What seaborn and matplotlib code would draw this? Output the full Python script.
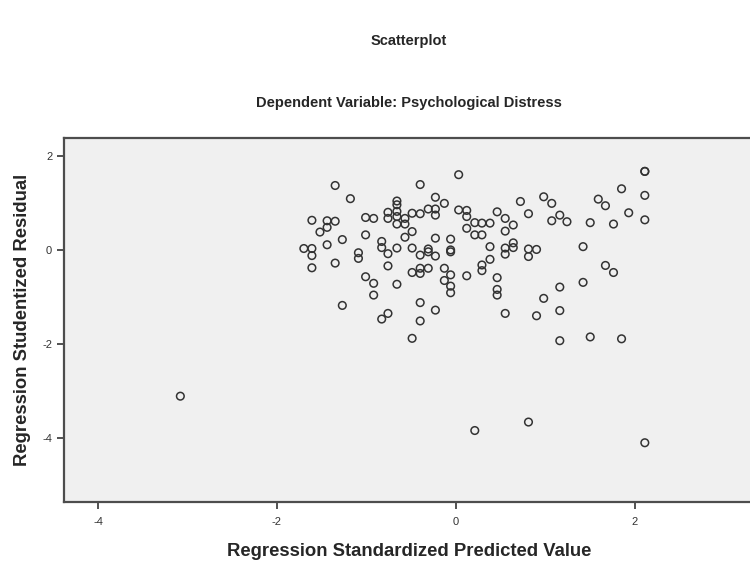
import matplotlib
matplotlib.use('Agg')
import matplotlib.pyplot as plt
import seaborn as sns
import pandas as pd

# ---- data ----
pred = [-1.70, -1.61, -1.61, -1.61, -1.61,
        -1.52, -1.44, -1.44, -1.44,
        -1.35, -1.35, -1.35,
        -1.27, -1.27, -1.18,
        -1.09, -1.09,
        -1.01, -1.01, -1.01,
        -0.92, -0.92, -0.92,
        -0.83, -0.83, -0.83,
        -0.76, -0.76, -0.76, -0.76, -0.76,
        -0.66, -0.66, -0.66, -0.66, -0.66, -0.66, -0.66,
        -0.57, -0.57, -0.57,
        -0.49, -0.49, -0.49, -0.49, -0.49,
        -0.40, -0.40, -0.40, -0.40, -0.40, -0.40, -0.40,
        -0.31, -0.31, -0.31, -0.31,
        -0.23, -0.23, -0.23, -0.23, -0.23, -0.23,
        -0.13, -0.13, -0.13,
        -0.06, -0.06, -0.06, -0.06, -0.06, -0.06,
        0.03, 0.03,
        0.12, 0.12, 0.12, 0.12,
        0.21, 0.21, 0.21,
        0.29, 0.29, 0.29, 0.29,
        0.38, 0.38, 0.38,
        0.46, 0.46, 0.46, 0.46,
        0.55, 0.55, 0.55, 0.55, 0.55,
        0.64, 0.64, 0.64,
        0.72,
        0.81, 0.81, 0.81, 0.81,
        0.90, 0.90,
        0.98, 0.98,
        1.07, 1.07,
        1.16, 1.16, 1.16, 1.16,
        1.24,
        1.42, 1.42,
        1.50, 1.50,
        1.59,
        1.67, 1.67,
        1.76, 1.76,
        1.85, 1.85,
        1.93,
        2.11, 2.11, 2.11, 2.11, 2.11,
        -3.08]
resid = [0.03, 0.03, -0.12, -0.38, 0.63,
         0.38, 0.62, 0.48, 0.11,
         1.37, 0.61, -0.28,
         0.22, -1.18, 1.09,
         -0.06, -0.18,
         0.69, 0.32, -0.57,
         0.67, -0.71, -0.96,
         0.18, 0.05, -1.47,
         0.80, 0.67, -0.08, -0.34, -1.35,
         1.04, 0.96, 0.82, 0.71, 0.55, 0.04, -0.73,
         0.67, 0.55, 0.27,
         0.78, 0.39, 0.04, -0.48, -1.88,
         1.39, 0.77, -0.11, -0.39, -0.50, -1.12, -1.51,
         0.87, 0.02, -0.04, -0.39,
         1.12, 0.87, 0.74, 0.25, -0.13, -1.28,
         0.99, -0.39, -0.65,
         0.23, 0.00, -0.04, -0.53, -0.77, -0.91,
         1.60, 0.85,
         0.84, 0.71, 0.46, -0.55,
         0.58, 0.32, -3.84,
         0.57, 0.32, -0.32, -0.44,
         0.57, 0.07, -0.20,
         0.81, -0.59, -0.84, -0.96,
         0.67, 0.40, 0.04, -0.09, -1.35,
         0.53, 0.15, 0.05,
         1.03,
         0.77, 0.02, -0.14, -3.66,
         0.01, -1.40,
         1.13, -1.03,
         0.99, 0.62,
         0.74, -0.79, -1.29, -1.93,
         0.60,
         0.07, -0.69,
         0.58, -1.85,
         1.08,
         0.94, -0.33,
         0.55, -0.48,
         1.30, -1.89,
         0.79,
         1.67, 1.67, 1.16, 0.64, -4.10,
         -3.11]
x_ticks = [-4, -2, 0, 2]
y_ticks = [2, 0, -2, -4]

df = pd.DataFrame({'pred': pred, 'resid': resid})

sns.set_style('white')
plt.rcParams['font.family'] = ['Liberation Sans', 'DejaVu Sans']
plt.rcParams['axes.unicode_minus'] = False   # SPSS uses a plain hyphen

fig = plt.figure(figsize=(7.5, 5.63), dpi=100)
ax = fig.add_axes([64/750, 1 - 502/563, 690/750, 364/563])
ax.set_facecolor('#f0f0f0')

sns.scatterplot(data=df, x='pred', y='resid', ax=ax, marker='o', s=30,
                facecolor='none', edgecolor='#333333', linewidth=1.1)

ax.set_xlim(-4.38, 3.33)
ax.set_ylim(-5.36, 2.38)
ax.set_xticks(x_ticks)
ax.set_yticks(y_ticks)
ax.tick_params(axis='both', direction='out', length=5, width=1.2,
               colors='#333333', labelsize=8, bottom=True, left=True)
ax.tick_params(axis='x', pad=6)
for side in ['left', 'bottom', 'top']:
    ax.spines[side].set_color('#4d4d4d')
    ax.spines[side].set_linewidth(1.6)
ax.spines['right'].set_visible(False)

ax.set_xlabel('Regression Standardized Predicted Value', fontsize=13.3,
              fontweight='bold', labelpad=11)
ax.set_ylabel('Regression Studentized Residual', fontsize=13.3,
              fontweight='bold', labelpad=8)

# titles as in the SPSS output
fig.text(409/750, 1 - 41/563, 'Scatterplot', ha='center', va='center',
         fontsize=10.5, fontweight='bold')
fig.text(409/750, 1 - 103/563, 'Dependent Variable: Psychological Distress',
         ha='center', va='center', fontsize=10.5, fontweight='bold')

fig.savefig('out.png', dpi=100)
